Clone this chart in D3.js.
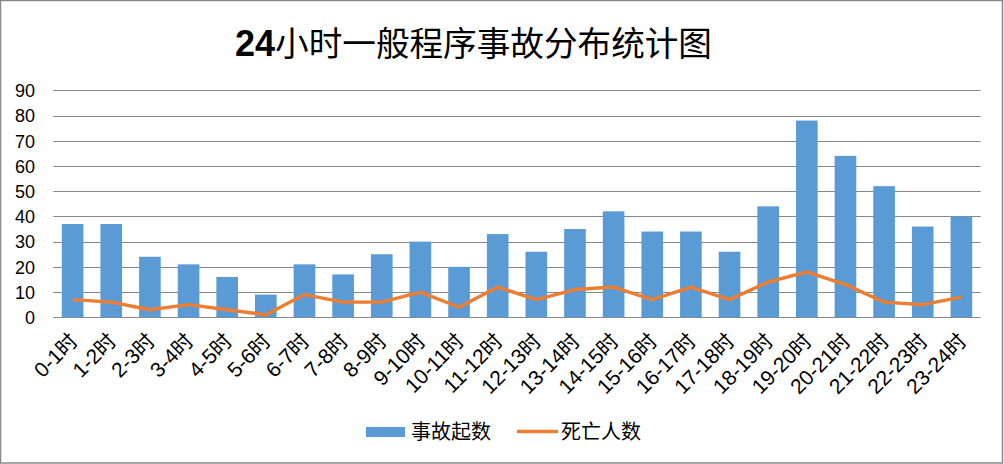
<!DOCTYPE html>
<html><head><meta charset="utf-8">
<script src="https://cdn.jsdelivr.net/npm/d3@7"></script>
<style>
html,body{margin:0;padding:0;background:#fff;}
svg{display:block;}
</style></head>
<body>
<svg id="chart" width="1004" height="464"></svg>
<script>
const categories = ["0-1时","1-2时","2-3时","3-4时","4-5时","5-6时","6-7时","7-8时","8-9时","9-10时","10-11时","11-12时","12-13时","13-14时","14-15时","15-16时","16-17时","17-18时","18-19时","19-20时","20-21时","21-22时","22-23时","23-24时"];
const accidents = [37,37,24,21,16,9,21,17,25,30,20,33,26,35,42,34,34,26,44,78,64,52,36,40];
const deaths = [7,6,3,5,3,1,9,6,6,10,4,12,7,11,12,7,12,7,14,18,13,6,5,8];
const yTicks = [0,10,20,30,40,50,60,70,80,90];
const seriesNames = ["事故起数","死亡人数"];
const titleNum = "24";
const titleText = "小时一般程序事故分布统计图";

const svg = d3.select("#chart");
const latin = "'Liberation Sans', Arial, 'Noto Sans CJK SC', sans-serif";
const cjk = "'Noto Sans CJK SC', 'Liberation Sans', sans-serif";

// border
svg.append("rect").attr("x",0.5).attr("y",0.5).attr("width",1002).attr("height",462.5)
  .attr("fill","#fff").attr("stroke","#888").attr("stroke-width",1.5);

const x = d3.scaleBand().domain(categories).range([53.3,980.7]).paddingInner(0.44).paddingOuter(0.22);
const y = d3.scaleLinear().domain([0,90]).range([317.3,90.3]);

// gridlines
svg.append("g").selectAll("line").data(yTicks).join("line")
  .attr("x1",53.3).attr("x2",980.7)
  .attr("y1",d=>Math.round(y(d))+0.5).attr("y2",d=>Math.round(y(d))+0.5)
  .attr("stroke","#878787").attr("stroke-width",1.2);

// y axis labels
const yAxis = d3.axisLeft(y).tickValues(yTicks).tickSize(0).tickPadding(0);
const yg = svg.append("g").attr("transform","translate(35,0)").call(yAxis);
yg.select(".domain").remove();
yg.selectAll("text").attr("font-family",latin).attr("font-size",18).attr("fill","#000").attr("dy","0.35em");

// bars
svg.append("g").selectAll("rect").data(accidents).join("rect")
  .attr("x",(d,i)=>x(categories[i]))
  .attr("width",x.bandwidth())
  .attr("y",d=>y(d))
  .attr("height",d=>y(0)-y(d))
  .attr("fill","#5B9BD5");

// line
const line = d3.line().x((d,i)=>x(categories[i])+x.bandwidth()/2).y(d=>y(d));
svg.append("path").datum(deaths).attr("d",line)
  .attr("fill","none").attr("stroke","#ED7D31").attr("stroke-width",3.4).attr("stroke-linejoin","round");

// x labels
const xAxis = d3.axisBottom(x).tickSize(0).tickPadding(0);
const xg = svg.append("g").attr("transform","translate(0,332)").call(xAxis);
xg.select(".domain").remove();
xg.selectAll(".tick text")
  .attr("font-family",latin).attr("font-size",21).attr("fill","#000")
  .attr("text-anchor","end").attr("dy","0.7em").attr("y",0)
  .attr("transform","translate(-4,0) rotate(-45)");

// title
const t = svg.append("text").attr("x",235).attr("y",56).attr("fill","#000");
t.append("tspan").attr("font-family",latin).attr("font-weight","bold").attr("font-size",36).text(titleNum);
const tc = t.append("tspan").attr("font-family",cjk).attr("font-weight","normal").attr("font-size",36).text(titleText);
const w = t.node().getComputedTextLength();
const w24 = t.select("tspan").node().getComputedTextLength();
const target = 477;
tc.attr("font-size", 36 * (target - w24) / (w - w24));

// legend
const lg = svg.append("g");
lg.append("rect").attr("x",366).attr("y",427).attr("width",39).attr("height",10).attr("fill","#5B9BD5");
lg.append("text").attr("x",411).attr("y",439).attr("font-family",cjk).attr("font-size",20).attr("fill","#000").text(seriesNames[0]);
lg.append("line").attr("x1",517).attr("x2",558).attr("y1",431.5).attr("y2",431.5).attr("stroke","#ED7D31").attr("stroke-width",3.4);
lg.append("text").attr("x",561).attr("y",439).attr("font-family",cjk).attr("font-size",20).attr("fill","#000").text(seriesNames[1]);
</script>
</body></html>
